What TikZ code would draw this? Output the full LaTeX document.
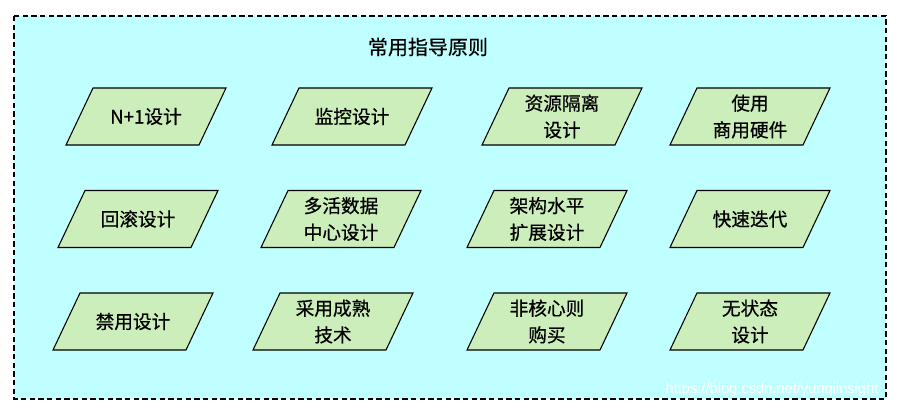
\documentclass[tikz,border=0pt]{standalone}
\usepackage{fontspec}
\setmainfont{Noto Sans CJK SC}[FakeBold=0.6]
\newfontfamily\wmfont{Liberation Sans}

\definecolor{bgcyan}{RGB}{192,255,255}
\definecolor{paragreen}{RGB}{204,238,187}

\begin{document}
\begin{tikzpicture}[
  x=0.75pt, y=-0.75pt,
  font=\fontsize{14}{20}\selectfont,
  para/.style={draw, line width=0.8pt, fill=paragreen, line join=miter},
  txt/.style={align=center, inner sep=0pt},
  frame/.style={draw, line width=0.8pt, dash pattern=on 4pt off 2.5pt, fill=bgcyan},
  wm/.style={text=white, font=\wmfont\fontsize{11}{13}\selectfont},
]
  \useasboundingbox (0,0) rectangle (901,411);
  \draw[frame] (14,16) rectangle (886,399);
  \node[font=\fontsize{15}{20}\selectfont] (title) at (428,47) {常用指导原则};

  \foreach \name/\x/\y/\txt in {%
      n1/146/116.5/{N+1设计}, jk/352/116.5/{监控设计}, zy/562/116.5/{资源隔离\\设计}, sy/750/116.5/{使用\\商用硬件},
      hg/138/219/{回滚设计}, dh/341/219/{多活数据\\中心设计}, jg/547/219/{架构水平\\扩展设计}, kd/750/219/{快速迭代},
      jy/133/321.5/{禁用设计}, cy/333/321.5/{采用成熟\\技术}, fh/547/321.5/{非核心则\\购买}, wz/750/321.5/{无状态\\设计}}
  {
    \draw[para] (\x-53,\y-28.5) -- (\x+80,\y-28.5) -- (\x+53,\y+28.5) -- (\x-80,\y+28.5) -- cycle;
    \node[txt] (\name) at (\x, \y) {\txt};
  }

  \node[wm] (wm) at (772,390) {https://blog.csdn.net/yunqiinsight};
\end{tikzpicture}
\end{document}
